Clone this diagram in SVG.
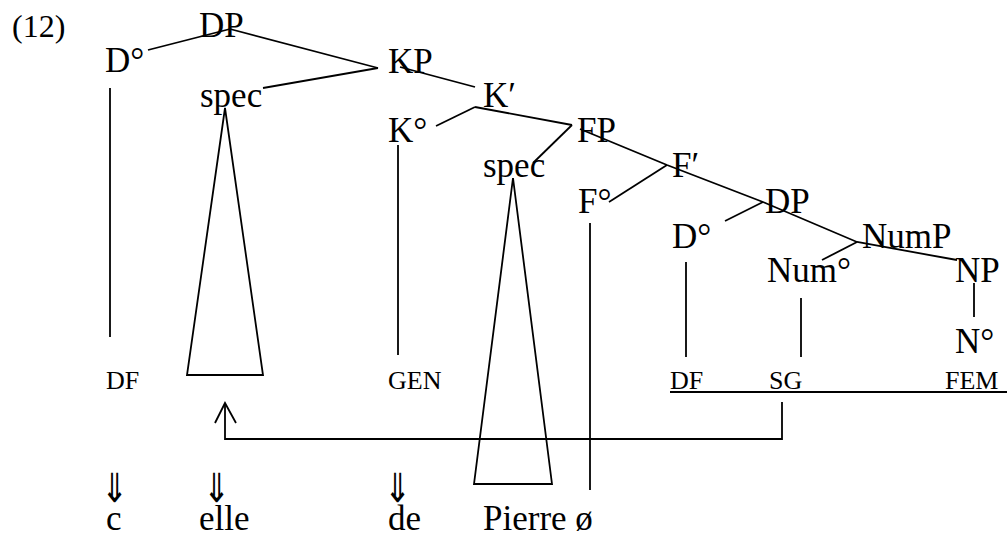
<svg xmlns="http://www.w3.org/2000/svg" width="1007" height="535" viewBox="0 0 1007 535">
<style>
  .t { font-family: "Liberation Serif", "Times New Roman", serif; font-size: 35px; fill: #000; }
  .s { font-family: "Liberation Serif", "Times New Roman", serif; font-size: 26px; fill: #000; }
  .a { font-family: "DejaVu Sans", sans-serif; font-size: 40px; fill: #000; text-anchor: middle; }
  .l { stroke: #000; stroke-width: 1.8; fill: none; stroke-linecap: butt; stroke-linejoin: miter; }
</style>
<rect width="1007" height="535" fill="#fff"/>
<text class="t" x="12" y="37" style="font-size:32px">(12)</text>
<g id="connectors" class="l">
  <line x1="148" y1="50" x2="230" y2="29"/>
  <line x1="230" y1="29" x2="378" y2="68"/>
  <line x1="378" y1="68" x2="263" y2="88"/>
  <line x1="400" y1="67" x2="475" y2="87"/>
  <line x1="475" y1="107" x2="436" y2="126"/>
  <line x1="475" y1="107" x2="572" y2="125"/>
  <line x1="572" y1="125" x2="533" y2="163"/>
  <polyline points="580,129 667,165 763,202 857,242 957,260"/>
  <line x1="667" y1="165" x2="609" y2="202"/>
  <line x1="763" y1="202" x2="725" y2="221"/>
  <line x1="857" y1="242" x2="822" y2="260"/>
  <line x1="974" y1="283" x2="974" y2="317"/>
  <line x1="110" y1="88" x2="110" y2="337"/>
  <line x1="398" y1="145" x2="398" y2="355"/>
  <line x1="590" y1="223" x2="590" y2="490"/>
  <line x1="686" y1="262" x2="686" y2="357"/>
  <line x1="801" y1="298" x2="801" y2="357"/>
  <polygon points="225,108 187,375 263,375"/>
  <polygon points="513,178 474,484 552,484"/>
  <line x1="670" y1="392" x2="1007" y2="392"/>
  <polyline points="782,402 782,439 225,439 225,403"/>
  <polyline points="215,423 225,403 236,423"/>
</g>
<g id="n-DP"><text class="t" x="199" y="37">DP</text></g>
<g id="n-D1"><text class="t" x="105" y="72">D°</text></g>
<g id="n-spec1"><text class="t" x="200" y="107">spec</text></g>
<g id="n-KP"><text class="t" x="388" y="73">KP</text></g>
<g id="n-Kbar"><text class="t" x="483" y="107">K′</text></g>
<g id="n-K0"><text class="t" x="388" y="142">K°</text></g>
<g id="n-FP"><text class="t" x="577" y="142">FP</text></g>
<g id="n-spec2"><text class="t" x="483" y="177">spec</text></g>
<g id="n-Fbar"><text class="t" x="672" y="177">F′</text></g>
<g id="n-F0"><text class="t" x="578" y="213">F°</text></g>
<g id="n-DP2"><text class="t" x="765" y="213">DP</text></g>
<g id="n-D2"><text class="t" x="672" y="248">D°</text></g>
<g id="n-NumP"><text class="t" x="862" y="248">NumP</text></g>
<g id="n-Num0"><text class="t" x="767" y="282">Num°</text></g>
<g id="n-NP"><text class="t" x="955" y="282">NP</text></g>
<g id="n-N0"><text class="t" x="955" y="353">N°</text></g>
<g id="n-feat">
  <text class="s" x="106" y="389">DF</text>
  <text class="s" x="388" y="389">GEN</text>
  <text class="s" x="670" y="389">DF</text>
  <text class="s" x="769" y="389">SG</text>
  <text class="s" x="945" y="389">FEM</text>
</g>
<g id="n-arrows">
  <text class="a" transform="translate(114.5,502) scale(0.8,1)">⇓</text>
  <text class="a" transform="translate(216.5,502) scale(0.8,1)">⇓</text>
  <text class="a" transform="translate(397.5,502) scale(0.8,1)">⇓</text>
</g>
<g id="n-words">
  <text class="t" x="106" y="530">c</text>
  <text class="t" x="199" y="530">elle</text>
  <text class="t" x="388" y="530">de</text>
  <text class="t" x="483" y="530">Pierre ø</text>
</g>
</svg>
